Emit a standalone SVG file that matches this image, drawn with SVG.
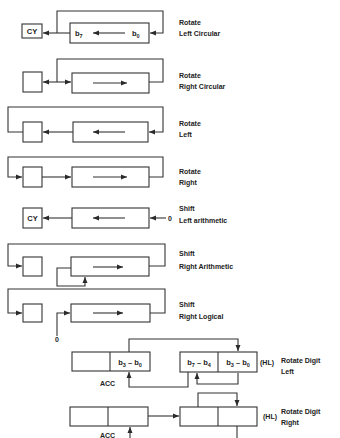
<svg xmlns="http://www.w3.org/2000/svg" width="340" height="438" viewBox="0 0 340 438">
<defs>
<marker id="ah" markerUnits="userSpaceOnUse" markerWidth="7" markerHeight="6" refX="6" refY="3" orient="auto">
<path d="M0,0.5 L6,3 L0,5.5 z" fill="#2a2a2a"/>
</marker>
<style>
.bx{fill:#fff;stroke:#333;stroke-width:1.1}
.ln{fill:none;stroke:#333;stroke-width:1.1}
.ar{fill:none;stroke:#333;stroke-width:1.1;marker-end:url(#ah)}
.lb{font-family:"Liberation Sans",Arial,sans-serif;font-weight:bold;font-size:7px;fill:#222}
.bt{font-family:"Liberation Sans",Arial,sans-serif;font-weight:bold;font-size:7.5px;fill:#222}
.sub{font-size:5.5px}
</style>
</defs>
<rect width="340" height="438" fill="#fff"/>

<g id="rlc">
<rect class="bx" x="22" y="24" width="20" height="14"/>
<text class="bt" x="32" y="34" text-anchor="middle">CY</text>
<rect class="bx" x="70" y="23" width="79" height="20"/>
<text class="bt" x="75" y="36">b<tspan class="sub" dy="1.5">7</tspan></text>
<text class="bt" x="132" y="36">b<tspan class="sub" dy="1.5">0</tspan></text>
<text class="lb" x="179" y="25">Rotate</text>
<text class="lb" x="179" y="36">Left Circular</text>
</g>

<g id="rrc">
<rect class="bx" x="23" y="72" width="19" height="20"/>
<rect class="bx" x="72" y="73" width="77" height="20"/>
<text class="lb" x="179" y="78">Rotate</text>
<text class="lb" x="179" y="89">Right Circular</text>
</g>

<g id="rl">
<rect class="bx" x="23" y="122" width="19" height="20"/>
<rect class="bx" x="73" y="122" width="75" height="20"/>
<text class="lb" x="179" y="126">Rotate</text>
<text class="lb" x="179" y="137">Left</text>
</g>

<g id="rr">
<rect class="bx" x="23" y="167" width="19" height="20"/>
<rect class="bx" x="72" y="167" width="77" height="20"/>
<text class="lb" x="179" y="174">Rotate</text>
<text class="lb" x="179" y="185">Right</text>
</g>

<g id="sla">
<rect class="bx" x="23" y="208" width="19" height="20"/>
<text class="bt" x="32.5" y="221" text-anchor="middle">CY</text>
<rect class="bx" x="72" y="208" width="77" height="20"/>
<text class="lb" x="168" y="220.5">0</text>
<text class="lb" x="179" y="211">Shift</text>
<text class="lb" x="179" y="223">Left arithmetic</text>
</g>

<g id="sra">
<rect class="bx" x="23" y="257" width="19" height="19"/>
<rect class="bx" x="71" y="257" width="78" height="19"/>
<text class="lb" x="179" y="256">Shift</text>
<text class="lb" x="179" y="269">Right Arithmetic</text>
</g>

<g id="srl">
<rect class="bx" x="23" y="304" width="19" height="18"/>
<rect class="bx" x="71" y="304" width="79" height="18"/>
<text class="lb" x="55" y="341.5" font-size="6">0</text>
<text class="lb" x="179" y="307">Shift</text>
<text class="lb" x="179" y="319">Right Logical</text>
</g>

<g id="rld">
<rect class="bx" x="72" y="352" width="78" height="19"/>
<line class="ln" x1="110" y1="352" x2="110" y2="371"/>
<text class="bt" x="130" y="365" text-anchor="middle">b<tspan class="sub" dy="1.5">3</tspan><tspan dy="-1.5"> – b</tspan><tspan class="sub" dy="1.5">0</tspan></text>
<rect class="bx" x="180" y="352" width="77" height="20"/>
<line class="ln" x1="218" y1="352" x2="218" y2="372"/>
<text class="bt" x="199" y="365" text-anchor="middle">b<tspan class="sub" dy="1.5">7</tspan><tspan dy="-1.5"> – b</tspan><tspan class="sub" dy="1.5">4</tspan></text>
<text class="bt" x="238" y="365" text-anchor="middle">b<tspan class="sub" dy="1.5">3</tspan><tspan dy="-1.5"> – b</tspan><tspan class="sub" dy="1.5">0</tspan></text>
<text class="lb" x="260" y="365" font-size="6">(HL)</text>
<text class="lb" x="100" y="386" font-size="6.5">ACC</text>
<text class="lb" x="281" y="363">Rotate Digit</text>
<text class="lb" x="281" y="374">Left</text>
</g>

<g id="rrd">
<rect class="bx" x="70" y="407" width="78" height="19"/>
<line class="ln" x1="108" y1="407" x2="108" y2="426"/>
<rect class="bx" x="180" y="407" width="77" height="19"/>
<line class="ln" x1="218" y1="407" x2="218" y2="426"/>
<text class="lb" x="263" y="419" font-size="6">(HL)</text>
<text class="lb" x="100" y="438" font-size="6.5">ACC</text>
<text class="lb" x="281" y="414">Rotate Digit</text>
<text class="lb" x="281" y="425">Right</text>
</g>

<g id="connectors">
<path class="ar" d="M57,33 L57,11 L163,11 L163,33 L150,33"/>
<path class="ar" d="M70,33 L43,33"/>
<path class="ar" d="M125,33 L93,33"/>
<path class="ln" d="M149,82 L163,82 L163,59 L57,59 L57,82"/>
<path class="ar" d="M57,82 L43,82"/>
<path class="ar" d="M57,82 L71,82"/>
<path class="ar" d="M93,83 L127,83"/>
<path class="ar" d="M23,132 L8,132 L8,107 L163,107 L163,132 L149,132"/>
<path class="ar" d="M73,132 L43,132"/>
<path class="ar" d="M125,132 L93,132"/>
<path class="ar" d="M149,177 L163,177 L163,157 L8,157 L8,177 L22,177"/>
<path class="ar" d="M42,177 L71,177"/>
<path class="ar" d="M93,177 L127,177"/>
<path class="ar" d="M72,218 L43,218"/>
<path class="ar" d="M166,218 L150,218"/>
<path class="ar" d="M125,218 L93,218"/>
<path class="ar" d="M149,266 L165,266 L165,244 L8,244 L8,266 L22,266"/>
<path class="ar" d="M71,268 L57,268 L57,286 L85,286 L85,277"/>
<path class="ar" d="M93,267 L123,267"/>
<path class="ar" d="M150,313 L165,313 L165,289 L8,289 L8,313 L22,313"/>
<path class="ar" d="M57,336 L57,313 L70,313"/>
<path class="ar" d="M93,313 L123,313"/>
<path class="ar" d="M129,352 L129,339 L238,339 L238,351"/>
<path class="ar" d="M188,372 L188,387 L129,387 L129,372"/>
<path class="ar" d="M238,373 L238,384 L197,384 L197,373"/>
<path class="ar" d="M148,416 L179,416"/>
<path class="ar" d="M198,407 L198,393 L237,393 L237,406"/>
<path class="ln" d="M237,426 L237,440"/>
<path class="ar" d="M130,440 L130,427"/>
</g>
</svg>
